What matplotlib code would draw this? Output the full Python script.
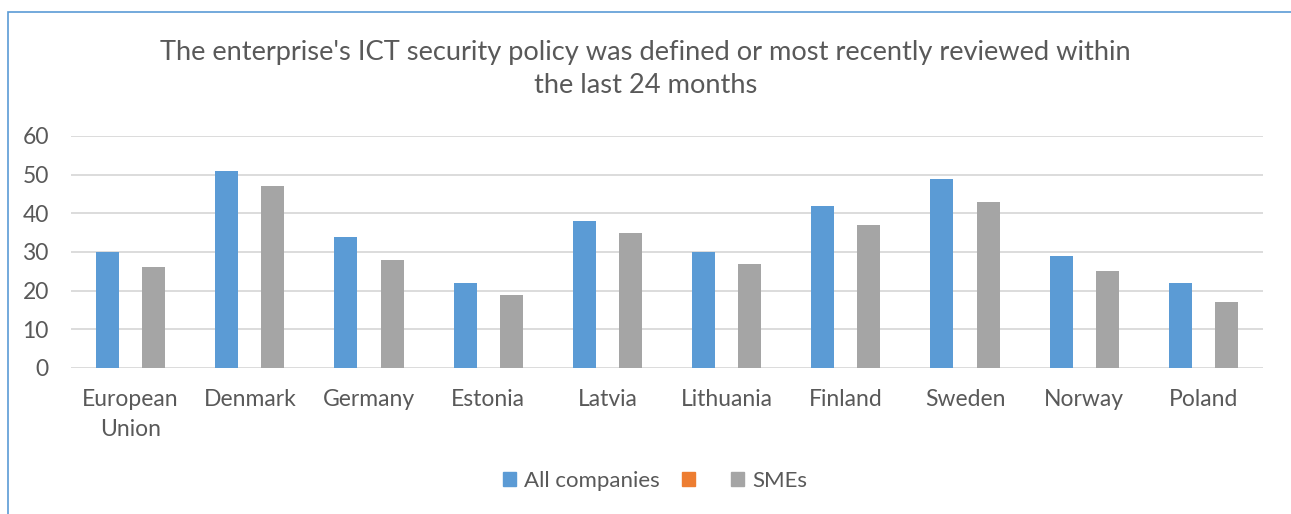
import numpy as np
import matplotlib.pyplot as plt
from matplotlib.patches import Rectangle

countries = ["European\nUnion", "Denmark", "Germany", "Estonia", "Latvia",
             "Lithuania", "Finland", "Sweden", "Norway", "Poland"]
all_companies = [30, 51, 34, 22, 38, 30, 42, 49, 29, 22]
smes = [26, 47, 28, 19, 35, 27, 37, 43, 25, 17]

plt.rcParams['font.family'] = ['Lato', 'DejaVu Sans']
txt = '#595959'

fig = plt.figure(figsize=(12.91, 5.14), dpi=100)
ax = fig.add_axes([71/1291, 1-368/514, (1263-71)/1291, (368-136)/514])

x = np.arange(len(countries))
w = 0.193
b1 = ax.bar(x - w, all_companies, w, color='#5b9bd5', zorder=3)
b2 = ax.bar(x, [0]*len(x), w, color='#ed7d31', zorder=3)  # empty series
b3 = ax.bar(x + w, smes, w, color='#a5a5a5', zorder=3)

ax.set_xlim(-0.5, len(x) - 0.5)
ax.set_ylim(0, 60)
ax.set_yticks(range(0, 61, 10))
ax.grid(axis='y', color='#d9d9d9', lw=1.3, zorder=0)
for s in ax.spines.values():
    s.set_visible(False)
ax.tick_params(length=0, labelsize=16.5, colors=txt)
ax.tick_params(axis='y', pad=16)
ax.tick_params(axis='x', pad=15)
ax.set_xticks(x)
ax.set_xticklabels(countries, linespacing=1.55)

fig.text(0.5, 1-69/514, "The enterprise's ICT security policy was defined or most recently reviewed within\nthe last 24 months",
         ha='center', va='center', fontsize=19.6, color=txt, linespacing=1.42)

handles = [Rectangle((0, 0), 1, 1, color=c) for c in ['#5b9bd5', '#ed7d31', '#a5a5a5']]
leg = fig.legend(handles, ['All companies', ' ', 'SMEs'], loc='center',
                 bbox_to_anchor=(655/1291, 1-481/514), ncol=3, frameon=False,
                 fontsize=16, handlelength=0.6, handleheight=0.6, handletextpad=0.35,
                 columnspacing=1.0)
for t in leg.get_texts():
    t.set_color(txt)

# chart border (light blue, only top and left visible)
fig.add_artist(Rectangle((7.5/1291, -0.1), 1.2, (1-11.5/514) + 0.1, transform=fig.transFigure,
                         fill=False, edgecolor='#5b9bd5', lw=1.2))

fig.savefig('out.png', dpi=100)
